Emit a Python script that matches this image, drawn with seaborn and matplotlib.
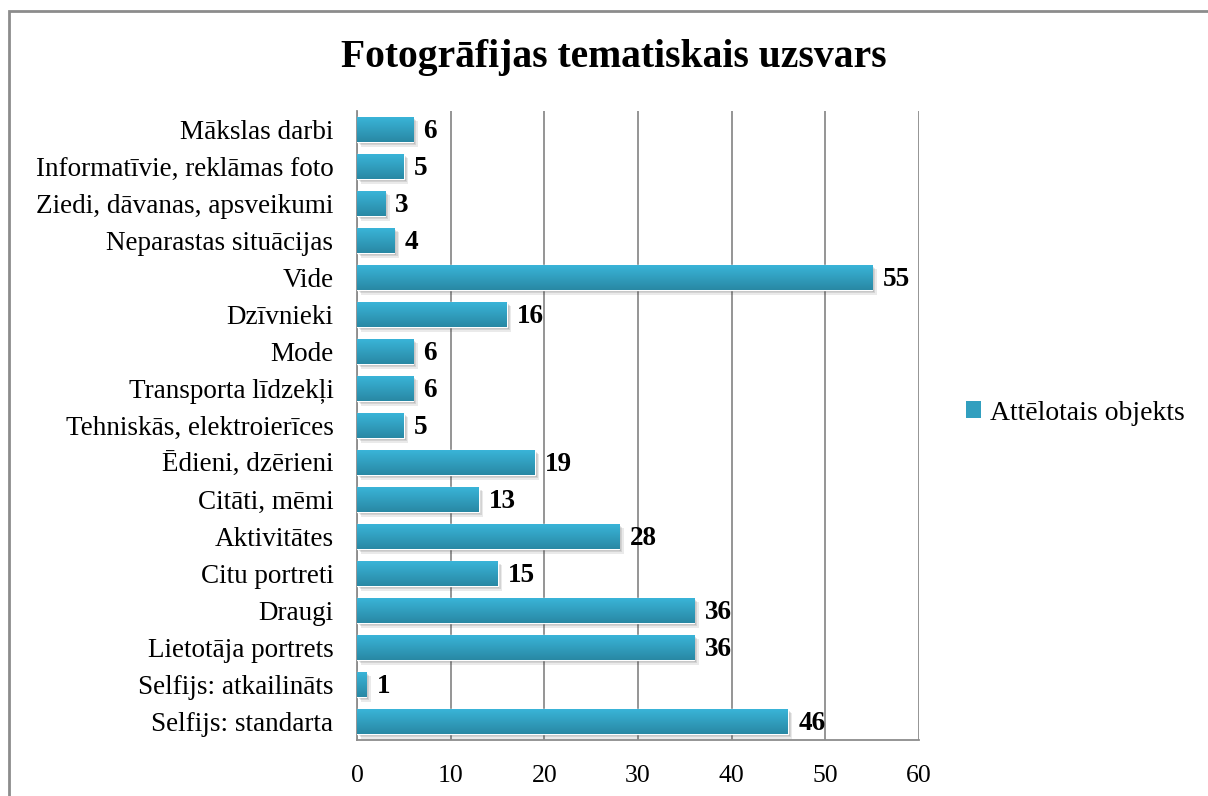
import numpy as np
import pandas as pd
import matplotlib
matplotlib.use("Agg")
import matplotlib.pyplot as plt
import matplotlib.patheffects as pe
from matplotlib.patches import Rectangle
import seaborn as sns

categories = [
    "Mākslas darbi",
    "Informatīvie, reklāmas foto",
    "Ziedi, dāvanas, apsveikumi",
    "Neparastas situācijas",
    "Vide",
    "Dzīvnieki",
    "Mode",
    "Transporta līdzekļi",
    "Tehniskās, elektroierīces",
    "Ēdieni, dzērieni",
    "Citāti, mēmi",
    "Aktivitātes",
    "Citu portreti",
    "Draugi",
    "Lietotāja portrets",
    "Selfijs: atkailināts",
    "Selfijs: standarta",
]
values = [6, 5, 3, 4, 55, 16, 6, 6, 5, 19, 13, 28, 15, 36, 36, 1, 46]
series_name = "Attēlotais objekts"
title = "Fotogrāfijas tematiskais uzsvars"
x_ticks = [0, 10, 20, 30, 40, 50, 60]

sns.set_theme(style="white")
plt.rcParams["font.family"] = ["Liberation Serif", "DejaVu Serif"]
plt.rcParams["text.color"] = "black"
plt.rcParams["axes.labelcolor"] = "black"
plt.rcParams["xtick.color"] = "black"
plt.rcParams["ytick.color"] = "black"

df = pd.DataFrame({"cat": categories, "val": values, "series": series_name})

W, H = 1208, 796
fig = plt.figure(figsize=(W / 100, H / 100), dpi=100)
ax = fig.add_axes([357 / W, 1 - 740 / H, (919 - 357) / W, (740 - 111) / H])

top_col = np.array([0x3A, 0xB6, 0xDA]) / 255
bot_col = np.array([0x29, 0x88, 0xA4]) / 255
mid_col = (top_col + bot_col) / 2

sns.barplot(data=df, y="cat", x="val", hue="series", order=categories,
            palette=[mid_col], orient="h", width=0.68, ax=ax, legend=True,
            zorder=3)

# gradient overlay on each bar + soft shadow
grad = np.linspace(0, 1, 64)[:, None, None]
img = top_col[None, None, :] * (1 - grad) + bot_col[None, None, :] * grad
for bar in ax.patches:
    x0, y0 = bar.get_x(), bar.get_y()
    w, h = bar.get_width(), bar.get_height()
    if w <= 0:
        continue
    bar.set_path_effects([
        pe.SimplePatchShadow(offset=(3.2, -3.2), alpha=0.10, shadow_rgbFace="0.2"),
        pe.SimplePatchShadow(offset=(2.2, -2.2), alpha=0.12, shadow_rgbFace="0.2"),
        pe.SimplePatchShadow(offset=(1.2, -1.2), alpha=0.15, shadow_rgbFace="0.2"),
        pe.Normal()])
    im = ax.imshow(img, extent=[x0, x0 + w, y0 + h, y0], aspect="auto",
                   zorder=4, interpolation="bilinear")
    im.set_clip_path(bar)

ax.set_xlim(0, 60)
ax.set_ylim(len(categories) - 0.5, -0.5)
ax.set_xticks(x_ticks)
ax.set_xticklabels([str(t) for t in x_ticks])
ax.grid(axis="x", color="#8c8c8c", linewidth=1.3, zorder=0)
ax.grid(axis="y", visible=False)
ax.set_axisbelow(True)
for s in ["top", "right"]:
    ax.spines[s].set_visible(False)
for s in ["left", "bottom"]:
    ax.spines[s].set_color("#8c8c8c")
    ax.spines[s].set_linewidth(1.3)
ax.set_xlabel("")
ax.set_ylabel("")
ax.tick_params(axis="y", labelsize=19.5, pad=17, length=0, labelcolor="black")
ax.tick_params(axis="x", labelsize=18.5, pad=18, length=0, labelcolor="black")

for i, v in enumerate(values):
    ax.text(v + 1.1, i + 0.06, str(v), ha="left", va="center",
            fontsize=19.5, fontweight="bold", color="black", zorder=5)

fig.text(614 / W, 1 - 57 / H, title, ha="center", va="center",
         fontsize=28.5, fontweight="bold", color="black")

leg = ax.get_legend()
if leg is not None:
    leg.remove()
handle = Rectangle((0, 0), 1, 1, facecolor=mid_col, edgecolor="none")
fig.legend([handle], [series_name], loc="center left",
           bbox_to_anchor=(966 / W, 1 - 413 / H), frameon=False,
           fontsize=20, handlelength=0.55, handleheight=0.55,
           handletextpad=0.3, borderpad=0, borderaxespad=0,
           labelcolor="black")

border = Rectangle((8.5 / W, -0.05), 1.2, 1 - 11 / H + 0.05,
                   transform=fig.transFigure, fill=False,
                   edgecolor="#8c8c8c", linewidth=2, zorder=10)
fig.patches.append(border)

fig.savefig("out.png", dpi=100)
